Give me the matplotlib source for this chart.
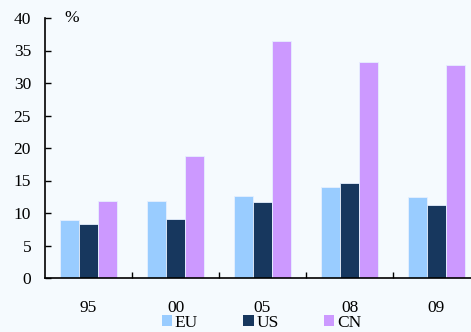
import numpy as np
import matplotlib.pyplot as plt
from matplotlib.patches import Patch

years = ["95", "00", "05", "08", "09"]
eu = [8.9, 11.8, 12.6, 14.0, 12.5]
us = [8.3, 9.1, 11.7, 14.6, 11.2]
cn = [11.8, 18.8, 36.5, 33.2, 32.7]

series = [("EU", eu, "#99CCFF"), ("US", us, "#17375E"), ("CN", cn, "#CC99FF")]

plt.rcParams['font.family'] = ['Liberation Serif', 'DejaVu Serif']
bg = "#F5FAFE"

fig = plt.figure(figsize=(4.71, 3.32), dpi=100, facecolor=bg)
# axes run slightly past the right edge, as in the original
ax = fig.add_axes([45 / 471, 54 / 332, 435 / 471, 260 / 332], facecolor=bg)

x = np.arange(len(years))
w = 0.22
for i, (name, vals, col) in enumerate(series):
    ax.bar(x + (i - 1) * w, vals, w, color=col, edgecolor="#E6F0FF", linewidth=0.6, label=name)

ax.set_xlim(-0.5, 4.5)
ax.set_ylim(0, 40)
ax.set_yticks(range(0, 41, 5))
ax.tick_params(axis="y", direction="in", length=4, width=1, pad=10, labelsize=12.5)
ax.set_xticks(x)
ax.set_xticklabels(years)
ax.tick_params(axis="x", which="major", length=0, pad=16, labelsize=12.5)
ax.set_xticks(np.arange(0.5, 4.5, 1), minor=True)
ax.tick_params(axis="x", which="minor", direction="in", length=4, width=1)

for s in ["top", "right"]:
    ax.spines[s].set_visible(False)
for s in ["left", "bottom"]:
    ax.spines[s].set_linewidth(1.2)

ax.text(0.045, 1.0, "%", transform=ax.transAxes, fontsize=12.5, va="center", ha="left")

handles = [Patch(facecolor=c, edgecolor="none") for _, _, c in series]
fig.legend(handles, [n for n, _, _ in series], loc="center", bbox_to_anchor=(0.555, 0.027),
           ncol=3, frameon=False, fontsize=12.5, handlelength=0.6, handleheight=0.6,
           handletextpad=0.15, columnspacing=2.6, borderpad=0, borderaxespad=0)

fig.savefig("out.png", dpi=100, facecolor=bg)
